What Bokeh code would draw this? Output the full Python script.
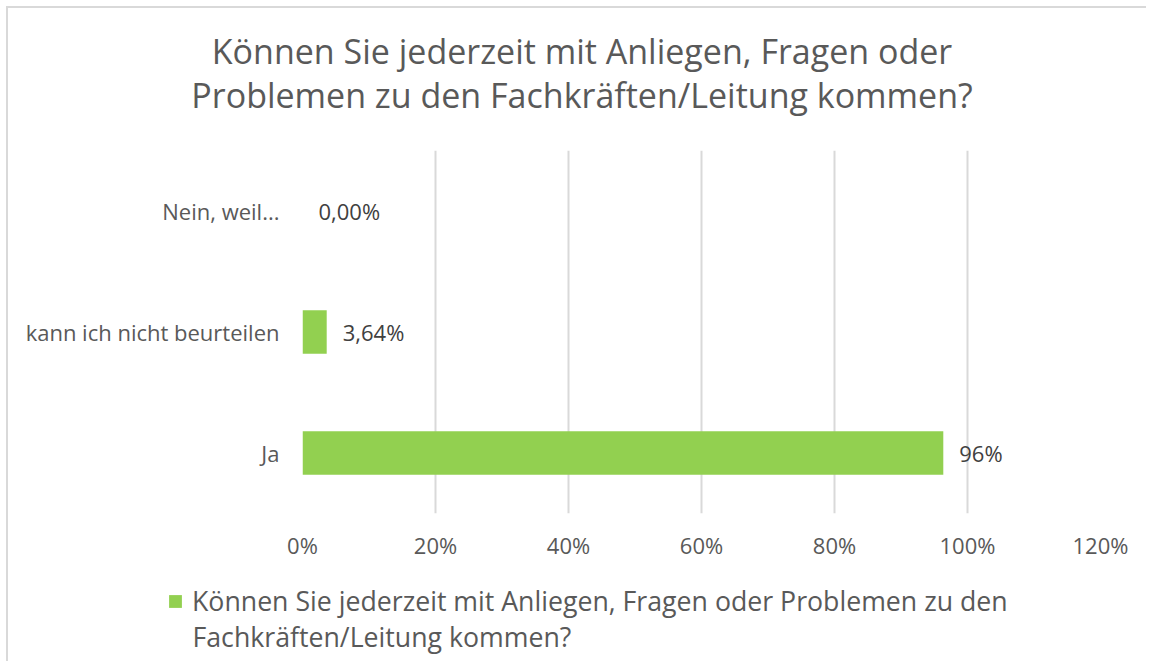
from bokeh.plotting import figure
from bokeh.layouts import column
from bokeh.models import (Range1d, FactorRange, NumeralTickFormatter, LabelSet, Label,
                          ColumnDataSource, Legend, LegendItem, FixedTicker)
from bokeh.core.properties import value
from bokeh.embed import file_html
from bokeh.resources import INLINE

# ---- data ----
categories = ["Ja", "kann ich nicht beurteilen", "Nein, weil..."]
values = [0.9636, 0.0364, 0.0]
value_labels = ["96%", "3,64%", "0,00%"]
x_ticks = [0, 0.2, 0.4, 0.6, 0.8, 1.0, 1.2]
title_lines = ["Können Sie jederzeit mit Anliegen, Fragen oder",
               "Problemen zu den Fachkräften/Leitung kommen?"]
legend_lines = ["Können Sie jederzeit mit Anliegen, Fragen oder Problemen zu den",
                "Fachkräften/Leitung kommen?"]

FONT = "Open Sans"
GREEN = "#92d050"
GREY = "#595959"
W = 1140
OFF = 8  # page offset of the chart area (inside the light border)

# ---------- title strip ----------
TH = 150 - OFF
tf = figure(width=W, height=TH, output_backend="svg", toolbar_location=None,
            x_axis_type=None, y_axis_type=None, min_border=0,
            x_range=Range1d(OFF, OFF + W), y_range=Range1d(OFF + TH, OFF))
tf.frame_align = False
tf.outline_line_color = None
tf.grid.visible = False
for t, base in zip(title_lines, [50, 94]):
    tf.add_layout(Label(x=581.5, y=base, text=t, text_align="center",
                        text_baseline="alphabetic", text_font=FONT,
                        text_font_size="34px", text_color=GREY))

# ---------- chart ----------
p = figure(width=W, height=430, output_backend="svg", toolbar_location=None,
           y_range=FactorRange(*categories, range_padding=0),
           x_range=Range1d(0, 1.2),
           min_border_left=302 - OFF, min_border_right=W - (302 - OFF) - 798,
           min_border_top=0, min_border_bottom=67)
p.frame_align = False
p.outline_line_color = None
p.background_fill_color = "white"
p.border_fill_color = "white"

src = ColumnDataSource(dict(cat=categories, val=values, lab=value_labels))
p.hbar(y="cat", right="val", left=0, height=0.36, source=src,
       fill_color=GREEN, line_color=None)

p.add_layout(LabelSet(x="val", y="cat", text="lab", source=src, x_offset=16,
                      text_align="left", text_baseline="middle",
                      text_font=value(FONT), text_font_size="22px", text_color="#404040"))

p.xaxis.ticker = FixedTicker(ticks=x_ticks)
p.xaxis.formatter = NumeralTickFormatter(format="0%")
for ax in (p.xaxis[0], p.yaxis[0]):
    ax.axis_line_color = None
    ax.major_tick_line_color = None
    ax.minor_tick_line_color = None
    ax.major_label_text_font = FONT
    ax.major_label_text_font_size = "22px"
    ax.major_label_text_color = GREY
p.xaxis.major_label_standoff = 10
p.yaxis.major_label_standoff = 17

p.xgrid.ticker = FixedTicker(ticks=x_ticks)
p.xgrid.grid_line_color = "#d9d9d9"
p.xgrid.grid_line_width = 2
p.ygrid.grid_line_color = None

# ---------- legend strip ----------
lg = figure(width=W, height=83, output_backend="svg", toolbar_location=None,
            x_axis_type=None, y_axis_type=None, min_border=0,
            x_range=Range1d(0, 1.2), y_range=FactorRange(*categories))
lg.frame_align = False
lg.outline_line_color = None
lg.grid.visible = False
# zero-size bars: only the legend swatch of this renderer is visible
swatch = lg.hbar(y="cat", right="val", left="val", height=0, source=src,
                 fill_color=GREEN, line_color=None)
legend = Legend(items=[LegendItem(label=legend_lines[0], renderers=[swatch])],
                location=(167 - OFF, 44), orientation="vertical",
                label_text_font=FONT, label_text_font_size="26.7px", label_text_color=GREY,
                label_text_line_height=1.33, label_standoff=9,
                glyph_width=16, glyph_height=16, padding=0, margin=0, spacing=0,
                border_line_color=None, background_fill_alpha=0)
lg.add_layout(legend, "center")
lg.add_layout(Label(x=192 - OFF, y=27, x_units="screen", y_units="screen",
                    text=legend_lines[1], text_align="left", text_baseline="middle",
                    text_font=FONT, text_font_size="26.7px", text_color=GREY))

layout = column(tf, p, lg, spacing=0)
layout.styles = {"margin-left": f"{OFF}px", "margin-top": f"{OFF}px",
                 "box-shadow": "-2px -2px 0 0 #d9d9d9"}
open("out.html", "w").write(file_html(layout, INLINE))
